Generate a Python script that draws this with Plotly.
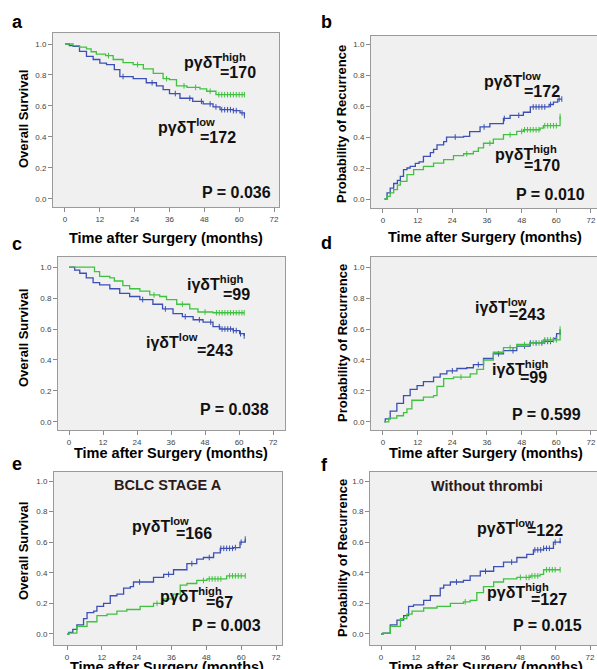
import plotly.graph_objects as go

# ---------------- data ----------------
tick_vals = [0, 12, 24, 36, 48, 60, 72]
y_tick_vals = [0.0, 0.2, 0.4, 0.6, 0.8, 1.0]
x_title = "Time after Surgery (months)"

# panel a: overall survival, pγδT
a_high_t = [0, 2.8, 5, 7.4, 9, 10.8, 14, 16.6, 20, 23.5, 27, 30.4, 33.8, 36, 38.4, 42, 46.5, 48.8, 52, 61.8]
a_high_s = [1.0, 0.99, 0.98, 0.968, 0.95, 0.935, 0.925, 0.90, 0.88, 0.867, 0.84, 0.81, 0.776, 0.77, 0.73, 0.72, 0.71, 0.695, 0.673, 0.673]
a_high_c = [15, 25, 35, 41, 45, 50, 53, 54, 55, 56, 57, 58, 59, 60, 61, 61.8]
a_low_t = [0, 1.5, 2.8, 5, 7.4, 9.7, 12, 14.3, 17, 18.9, 23.5, 28, 31.5, 33.8, 36, 39.6, 44, 47.6, 51, 53.4, 58, 60.3, 61.8]
a_low_s = [1.0, 0.99, 0.985, 0.953, 0.92, 0.9, 0.877, 0.867, 0.835, 0.79, 0.776, 0.75, 0.73, 0.705, 0.68, 0.65, 0.63, 0.613, 0.594, 0.576, 0.57, 0.555, 0.538]
a_low_c = [20, 30, 38, 43, 47, 50, 52, 54, 55, 56, 57, 58, 59, 61, 61.8]

# panel b: recurrence, pγδT
b_low_t = [0.5, 1.4, 2.5, 3.7, 5, 6, 7.1, 8.3, 9.4, 11.2, 12.5, 14, 16.4, 17.5, 18.7, 21, 22, 27.9, 30, 33.6, 37, 41.7, 44, 48.6, 51, 55.5, 57.5, 59, 60.5, 61.9]
b_low_s = [0, 0.04, 0.07, 0.10, 0.12, 0.146, 0.19, 0.20, 0.21, 0.23, 0.24, 0.275, 0.30, 0.32, 0.35, 0.37, 0.40, 0.404, 0.435, 0.465, 0.486, 0.52, 0.54, 0.56, 0.594, 0.594, 0.61, 0.625, 0.645, 0.645]
b_low_c = [25, 35, 42, 47, 52, 53, 54, 55, 56, 58, 61, 61.9]
b_high_t = [0.5, 1.4, 2.5, 3.7, 5, 6, 8.3, 10.6, 14, 17.5, 21, 24.4, 27.9, 31.3, 33, 34.8, 38.2, 41.7, 46.3, 48.6, 54.4, 55.5, 61.3, 61.3]
b_high_s = [0, 0.017, 0.04, 0.06, 0.09, 0.114, 0.157, 0.19, 0.21, 0.232, 0.254, 0.28, 0.292, 0.307, 0.33, 0.36, 0.387, 0.415, 0.436, 0.447, 0.458, 0.473, 0.473, 0.533]
b_high_c = [29, 37, 44, 48, 49, 50, 51, 52, 53, 54, 56, 57, 58, 59, 60, 61.3]

# panel c: overall survival, iγδT
c_high_t = [0, 6.1, 9, 10.8, 14.4, 16, 19, 21.4, 25, 28.5, 32, 34.4, 38, 42.6, 45.5, 50.8, 61.8]
c_high_s = [1.0, 1.0, 0.97, 0.94, 0.93, 0.91, 0.88, 0.86, 0.845, 0.82, 0.81, 0.79, 0.76, 0.73, 0.71, 0.705, 0.705]
c_high_c = [30, 40, 48, 52, 53, 54, 55, 56, 57, 58, 59, 60, 61, 61.8]
c_low_t = [0, 2, 3.8, 6.1, 8.5, 10.8, 14.4, 17.9, 21.4, 25, 29.6, 33, 36.7, 40, 43.8, 47.3, 50.8, 53.2, 57.9, 60.2, 61.8]
c_low_s = [1.0, 0.98, 0.96, 0.93, 0.9, 0.885, 0.86, 0.83, 0.81, 0.79, 0.76, 0.73, 0.7, 0.68, 0.66, 0.645, 0.615, 0.6, 0.59, 0.57, 0.555]
c_low_c = [26, 34, 41, 46, 50, 53, 54, 55, 56, 57, 58, 59, 60.5, 61.8]

# panel d: recurrence, iγδT
d_low_t = [0.5, 0.8, 2.5, 4.8, 7.1, 9.4, 11.8, 14, 17.5, 19.8, 22.1, 25.6, 29, 31.3, 34.8, 38.2, 41.7, 46.3, 50.9, 55.5, 59, 60.1, 61.3]
d_low_s = [0, 0.02, 0.07, 0.12, 0.17, 0.21, 0.235, 0.26, 0.29, 0.31, 0.33, 0.345, 0.35, 0.37, 0.41, 0.44, 0.46, 0.49, 0.51, 0.52, 0.54, 0.57, 0.58]
d_low_c = [24, 33, 40, 45, 49, 51, 53, 55, 56, 57, 58, 60, 61.3]
d_high_t = [0.5, 2, 4.8, 7.1, 8.3, 10, 14, 17.5, 18.7, 21, 24.4, 30.2, 32.5, 34.8, 38.2, 41.7, 46.3, 50.9, 55.5, 61.3, 61.3]
d_high_s = [0, 0.025, 0.04, 0.06, 0.085, 0.14, 0.16, 0.17, 0.23, 0.28, 0.29, 0.31, 0.34, 0.4, 0.45, 0.48, 0.5, 0.51, 0.53, 0.54, 0.6]
d_high_c = [27, 44, 49, 52, 54, 56, 57, 58, 59, 60, 61.3]

# panel e: BCLC stage A, pγδT
e_low_t = [0, 0.6, 2, 3.4, 5.7, 6.9, 9.2, 10.3, 12.6, 14.9, 17.2, 19.5, 21.8, 22.9, 27.5, 29.8, 33.3, 36.7, 41.3, 44.7, 47, 50.5, 52.8, 57.3, 59.6, 61.4]
e_low_s = [0, 0.01, 0.03, 0.06, 0.1, 0.14, 0.15, 0.18, 0.2, 0.25, 0.26, 0.3, 0.31, 0.34, 0.34, 0.37, 0.39, 0.42, 0.46, 0.49, 0.5, 0.53, 0.56, 0.565, 0.6, 0.62]
e_low_c = [25, 35, 43, 49, 53, 54, 55, 56, 57, 58, 60, 61.4]
e_high_t = [0, 0.6, 3.4, 6.9, 10.3, 13.8, 17.2, 20.6, 25.2, 29.8, 33.3, 36.7, 39, 41.3, 44.7, 48.2, 55, 61.4]
e_high_s = [0, 0.005, 0.05, 0.08, 0.12, 0.13, 0.15, 0.16, 0.18, 0.2, 0.23, 0.26, 0.32, 0.33, 0.35, 0.36, 0.38, 0.38]
e_high_c = [31, 47, 49, 50, 51, 52, 53, 56, 57, 58, 59, 60, 61.4]

# panel f: without thrombi, pγδT
f_low_t = [0, 0.7, 3.2, 5.5, 7.8, 9.5, 11.2, 14.7, 17, 20.4, 21.6, 23.9, 28.4, 30.7, 34.2, 38.8, 42.2, 46.8, 50.2, 52.5, 56, 59.4, 61.7]
f_low_s = [0, 0.005, 0.06, 0.09, 0.12, 0.18, 0.19, 0.22, 0.25, 0.3, 0.32, 0.34, 0.35, 0.38, 0.41, 0.44, 0.47, 0.5, 0.52, 0.55, 0.56, 0.6, 0.61]
f_low_c = [26, 36, 45, 53, 54, 55, 56, 57, 58, 60, 61.7]
f_high_t = [0, 0.7, 3.2, 6.7, 8.9, 10.7, 14.7, 19.3, 23.9, 28.4, 30.7, 33, 35.3, 38.8, 42.2, 46.8, 51.4, 54.8, 56, 61.7]
f_high_s = [0, 0.005, 0.05, 0.1, 0.13, 0.15, 0.17, 0.18, 0.2, 0.21, 0.22, 0.27, 0.31, 0.34, 0.36, 0.37, 0.38, 0.39, 0.42, 0.42]
f_high_c = [29, 48, 50, 51, 52, 53, 54, 57, 58, 59, 60, 61.7]

panel_letters = ["a", "b", "c", "d", "e", "f"]
y_titles = ["Overall Survival", "Probability of Recurrence", "Overall Survival",
            "Probability of Recurrence", "Overall Survival", "Probability of Recurrence"]
p_values = ["P = 0.036", "P = 0.010", "P = 0.038", "P = 0.599", "P = 0.003", "P = 0.015"]
subset_titles = {"e": "BCLC STAGE A", "f": "Without thrombi"}

# group labels: marker name, low tag, low n, high tag, high n
group_names = {
    "a": ("pγδT", "low", "172", "high", "170"),
    "b": ("pγδT", "low", "172", "high", "170"),
    "c": ("iγδT", "low", "243", "high", "99"),
    "d": ("iγδT", "low", "243", "high", "99"),
    "e": ("pγδT", "low", "166", "high", "67"),
    "f": ("pγδT", "low", "122", "high", "127"),
}

# ---------------- layout geometry (pixels) ----------------
W, H = 597, 669
BLUE = "#3b4fb4"
GREEN = "#3fc23f"
FONT = "Liberation Sans, Arial, sans-serif"

geom = {
    "a": dict(box=(53, 279, 33, 207), xr=(-4.13, 73.72), yr=(-0.052, 1.071)),
    "b": dict(box=(371, 597, 36, 208), xr=(-4.15, 74.08), yr=(-0.058, 1.052)),
    "c": dict(box=(58, 285, 257, 430), xr=(-3.88, 76.2), yr=(-0.052, 1.065)),
    "d": dict(box=(371, 597, 257, 430), xr=(-4.15, 74.08), yr=(-0.052, 1.065)),
    "e": dict(box=(54, 282, 472, 645), xr=(-4.48, 74.06), yr=(-0.072, 1.059)),
    "f": dict(box=(370, 597, 472, 645), xr=(-3.79, 74.4), yr=(-0.072, 1.059)),
}

label_pos = {
    "a": dict(low=(31.3, 0.469), lown=(59.7, 0.398), high=(40.2, 0.888), highn=(66.6, 0.817), p=(71.8, 0.043)),
    "b": dict(low=(34.2, 0.77), lown=(61.9, 0.697), high=(38.2, 0.297), highn=(61.9, 0.219), p=(70.7, 0.03)),
    "c": dict(low=(26.4, 0.522), lown=(58.5, 0.463), high=(40.8, 0.9), highn=(64.4, 0.822), p=(71.1, 0.079)),
    "d": dict(low=(31.1, 0.748), lown=(56.9, 0.692), high=(36.9, 0.348), highn=(57.3, 0.284), p=(69.1, 0.049)),
    "e": dict(low=(21.6, 0.711), lown=(50.5, 0.659), high=(31.5, 0.256), highn=(57.9, 0.206), p=(67.4, 0.054)),
    "f": dict(low=(32.5, 0.70), lown=(63.4, 0.675), high=(35.9, 0.278), highn=(64.6, 0.228), p=(70.0, 0.056)),
}
subset_pos = {"e": (34.7, 0.974), "f": (36.4, 0.97)}

letter_px = {"a": (17, 22), "b": (326, 22), "c": (17, 244), "d": (326, 243), "e": (17, 464), "f": (325, 465)}
ytitle_px = {"a": (23, 119), "b": (342, 124), "c": (23, 338), "d": (342, 343), "e": (23, 551), "f": (342, 558)}
xtitle_px = {"a": (166, 238), "b": (485, 237), "c": (171, 453), "d": (486, 453), "e": (167, 667), "f": (486, 667)}

series = {
    "a": [(a_low_t, a_low_s, a_low_c, BLUE), (a_high_t, a_high_s, a_high_c, GREEN)],
    "b": [(b_low_t, b_low_s, b_low_c, BLUE), (b_high_t, b_high_s, b_high_c, GREEN)],
    "c": [(c_low_t, c_low_s, c_low_c, BLUE), (c_high_t, c_high_s, c_high_c, GREEN)],
    "d": [(d_low_t, d_low_s, d_low_c, BLUE), (d_high_t, d_high_s, d_high_c, GREEN)],
    "e": [(e_low_t, e_low_s, e_low_c, BLUE), (e_high_t, e_high_s, e_high_c, GREEN)],
    "f": [(f_low_t, f_low_s, f_low_c, BLUE), (f_high_t, f_high_s, f_high_c, GREEN)],
}


def step_value(ts, ss, t):
    v = ss[0]
    for ti, si in zip(ts, ss):
        if ti <= t:
            v = si
    return v


def px2paper(x, y):
    return x / W, 1 - y / H


fig = go.Figure()
annotations = []
layout_axes = {}

for i, key in enumerate(panel_letters):
    n = i + 1
    xa = "x" if n == 1 else f"x{n}"
    ya = "y" if n == 1 else f"y{n}"
    g = geom[key]
    bx0, bx1, by0, by1 = g["box"]
    axis_common = dict(
        ticks="outside", ticklen=4, tickcolor="#8a8a8a",
        showline=True, linecolor="#9a9a9a", linewidth=1, mirror=True,
        showgrid=False, zeroline=False,
        tickfont=dict(family=FONT, size=8, color="#444"), fixedrange=True,
    )
    layout_axes[f"xaxis{'' if n == 1 else n}"] = dict(
        domain=[bx0 / W, min(bx1 / W, 1.0)], range=list(g["xr"]), anchor=ya,
        tickvals=tick_vals, **axis_common)
    layout_axes[f"yaxis{'' if n == 1 else n}"] = dict(
        domain=[1 - by1 / H, 1 - by0 / H], range=list(g["yr"]), anchor=xa,
        tickvals=y_tick_vals, ticktext=[f"{v:.1f}" for v in y_tick_vals], **axis_common)

    for ts, ss, cs, col in series[key]:
        fig.add_trace(go.Scatter(
            x=ts, y=ss, mode="lines", line=dict(color=col, width=1.3, shape="hv"),
            xaxis=xa, yaxis=ya, showlegend=False, hoverinfo="skip"))
        fig.add_trace(go.Scatter(
            x=cs, y=[step_value(ts, ss, c) for c in cs], mode="markers",
            marker=dict(symbol="line-ns-open", size=4, color=col, line=dict(color=col, width=1)),
            xaxis=xa, yaxis=ya, showlegend=False, hoverinfo="skip"))

    name, lo, lon, hi, hin = group_names[key]
    lp = label_pos[key]
    bold = dict(family=FONT, size=16, color="#111")
    annotations += [
        dict(x=lp["low"][0], y=lp["low"][1], xref=xa, yref=ya, xanchor="left", yanchor="middle",
             text=f"<b>{name}<sup>{lo}</sup></b>", showarrow=False, font=bold),
        dict(x=lp["lown"][0], y=lp["lown"][1], xref=xa, yref=ya, xanchor="right", yanchor="middle",
             text=f"<b>={lon}</b>", showarrow=False, font=bold),
        dict(x=lp["high"][0], y=lp["high"][1], xref=xa, yref=ya, xanchor="left", yanchor="middle",
             text=f"<b>{name}<sup>{hi}</sup></b>", showarrow=False, font=bold),
        dict(x=lp["highn"][0], y=lp["highn"][1], xref=xa, yref=ya, xanchor="right", yanchor="middle",
             text=f"<b>={hin}</b>", showarrow=False, font=bold),
        dict(x=lp["p"][0], y=lp["p"][1], xref=xa, yref=ya, xanchor="right", yanchor="middle",
             text=f"<b>{p_values[i]}</b>", showarrow=False, font=bold),
    ]
    if key in subset_titles:
        sx, sy = subset_pos[key]
        annotations.append(dict(x=sx, y=sy, xref=xa, yref=ya, xanchor="center", yanchor="middle",
                                text=f"<b>{subset_titles[key]}</b>", showarrow=False,
                                font=dict(family=FONT, size=14.5, color="#2a1a1a")))

    lx, ly = px2paper(*letter_px[key])
    annotations.append(dict(x=lx, y=ly, xref="paper", yref="paper", xanchor="center", yanchor="middle",
                            text=f"<b>{key}</b>", showarrow=False,
                            font=dict(family=FONT, size=18, color="#000")))
    tx, ty = px2paper(*xtitle_px[key])
    annotations.append(dict(x=tx, y=ty, xref="paper", yref="paper", xanchor="center", yanchor="middle",
                            text=f"<b>{x_title}</b>", showarrow=False,
                            font=dict(family=FONT, size=14.5, color="#000")))
    yx, yy = px2paper(*ytitle_px[key])
    annotations.append(dict(x=yx, y=yy, xref="paper", yref="paper", xanchor="center", yanchor="middle",
                            text=f"<b>{y_titles[i]}</b>", showarrow=False, textangle=-90,
                            font=dict(family=FONT, size=13, color="#000")))

fig.update_layout(
    width=W, height=H, margin=dict(l=0, r=0, t=0, b=0),
    paper_bgcolor="white", plot_bgcolor="#f0f0f0",
    annotations=annotations, showlegend=False, **layout_axes,
)

fig.write_html("out.html", config={"displayModeBar": False},
               post_script="document.body.style.margin='0';document.body.style.overflow='hidden';")
